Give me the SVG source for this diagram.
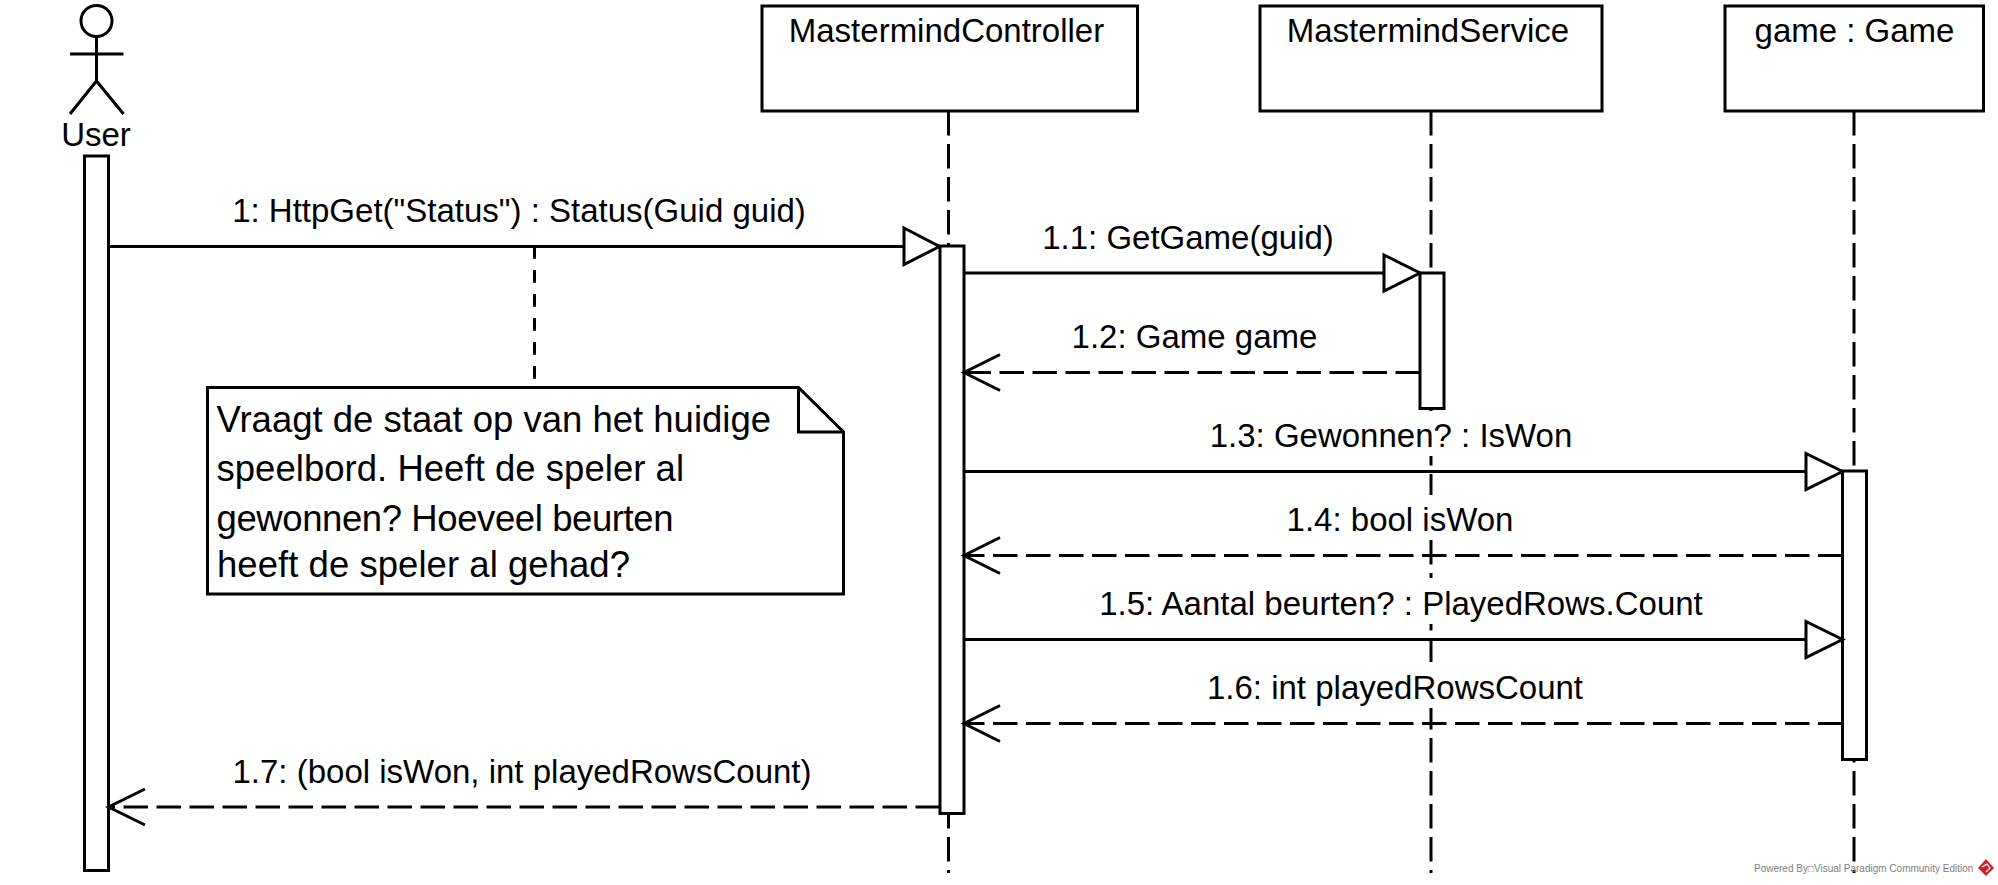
<svg xmlns="http://www.w3.org/2000/svg" width="1998" height="885" viewBox="0 0 1998 885">
<style>
text{font-family:"Liberation Sans",Arial,sans-serif;font-size:33px;fill:#000}
.m{text-anchor:middle}
.n{font-size:36.5px}
.s{fill:#fff;stroke:#000;stroke-width:3}
.l{fill:none;stroke:#000;stroke-width:3}
.d{fill:none;stroke:#000;stroke-width:3;stroke-dasharray:24.500 8.500}
.tri{fill:#fff;stroke:#000;stroke-width:3}
.bg{fill:#fff}
</style>
<rect width="1998" height="885" fill="#fff"/>
<g id="lifelines">
<path class="d" d="M948.500 111V873M1431 111V873M1854 111V873"/>
</g>
<g id="user">
<ellipse class="s" cx="96.5" cy="21" rx="15.5" ry="15.5"/>
<path class="l" d="M96.5 36.5V81M70 54H123.5M70 114L96.5 81L123.5 114"/>
<text class="m" x="96" y="146">User</text>
<rect class="s" x="84.5" y="156" width="24" height="714.500"/>
</g>
<g id="controller">
<rect class="s" x="762" y="6" width="375.500" height="105"/>
<text class="m" x="946.500" y="42">MastermindController</text>
<rect class="s" x="940" y="246" width="24" height="567.500"/>
</g>
<g id="service">
<rect class="s" x="1260" y="6" width="342" height="105"/>
<text class="m" x="1428" y="42">MastermindService</text>
<rect class="s" x="1420" y="273" width="24" height="135.500"/>
</g>
<g id="game">
<rect class="s" x="1725" y="6" width="258.500" height="105"/>
<text class="m" x="1854.500" y="42">game : Game</text>
<rect class="s" x="1842.500" y="471" width="24" height="288.500"/>
</g>
<g id="note">
<path class="l" d="M534.5 246V387" stroke-dasharray="12.700 11.300"/>
<path class="s" d="M207.5 387.500H798.500L843.500 432V594H207.500Z"/>
<path class="l" d="M798.500 387.500V432H843.500"/>
<text class="n" x="216.500" y="432" textLength="554.500">Vraagt de staat op van het huidige</text>
<text class="n" x="216.500" y="481" textLength="467.500">speelbord. Heeft de speler al</text>
<text class="n" x="216.500" y="531" textLength="457">gewonnen? Hoeveel beurten</text>
<text class="n" x="217" y="577" textLength="413">heeft de speler al gehad?</text>
</g>
<g id="connectors">
<path class="l" d="M108.500 246.500H904"/><path class="tri" d="M904 228L939.500 246.500L904 264.500Z"/>
<path class="l" d="M964 273H1384"/><path class="tri" d="M1384 255L1420 273L1384 291Z"/>
<path class="d" d="M1420 372.500H964"/><path class="l" d="M1000 354.500L964 372.500L1000 390.500"/>
<path class="l" d="M964 471.500H1806"/><path class="tri" d="M1806 453.500L1842.500 471.500L1806 489.500Z"/>
<path class="d" d="M1842.500 555.500H964"/><path class="l" d="M1000 537.500L964 555.500L1000 573.500"/>
<path class="l" d="M964 639.500H1806"/><path class="tri" d="M1806 621.500L1842.500 639.500L1806 657.500Z"/>
<path class="d" d="M1842.500 723.500H964"/><path class="l" d="M1000 705.500L964 723.500L1000 741.500"/>
<path class="d" d="M940 807H108.500"/><path class="l" d="M145 789L108.500 807L145 825"/>
</g>
<g id="labels">
<text class="m" x="519" y="221.500">1: HttpGet("Status") : Status(Guid guid)</text>
<text class="m" x="1188" y="248.500">1.1: GetGame(guid)</text>
<text class="m" x="1194.500" y="347.500">1.2: Game game</text>
<rect class="bg" x="1205" y="411" width="372" height="45"/>
<text class="m" x="1391" y="447">1.3: Gewonnen? : IsWon</text>
<rect class="bg" x="1283" y="495" width="235" height="45"/>
<text class="m" x="1400" y="530.500">1.4: bool isWon</text>
<rect class="bg" x="1095" y="578" width="612" height="46"/>
<text class="m" x="1401" y="614.500">1.5: Aantal beurten? : PlayedRows.Count</text>
<rect class="bg" x="1203" y="662" width="384" height="46"/>
<text class="m" x="1395" y="698.500">1.6: int playedRowsCount</text>
<text class="m" x="522" y="783">1.7: (bool isWon, int playedRowsCount)</text>
</g>
<g id="footer">
<text x="1754" y="872" style="font-size:10px;fill:#808080">Powered By□Visual Paradigm Community Edition</text>
<path d="M1986 859L1994 868L1986 876L1978 868Z" fill="#c8232c"/>
<path d="M1982 867L1987 864L1990 868L1986 872" fill="none" stroke="#fff" stroke-width="1.200"/>
</g>
</svg>
